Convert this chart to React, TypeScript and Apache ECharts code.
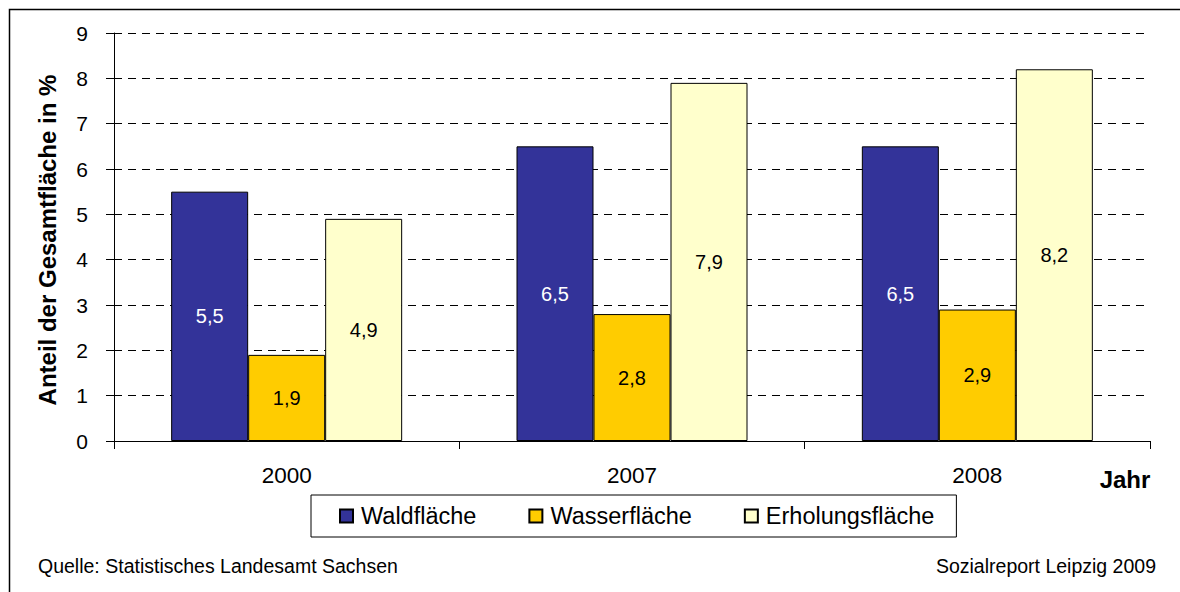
import React, { useEffect, useRef } from "react";
import * as echarts from "echarts";

const categories = ["2000", "2007", "2008"];
const waldflaeche = [5.5, 6.5, 6.5];
const wasserflaeche = [1.9, 2.8, 2.9];
const erholungsflaeche = [4.9, 7.9, 8.2];
const seriesNames = ["Waldfläche", "Wasserfläche", "Erholungsfläche"];
const yTicks = { min: 0, max: 9, interval: 1 };

const FONT = "'Liberation Sans', Arial, sans-serif";
const fmt = (v: number) => String(v).replace(".", ",");

export default function App() {
  const ref = useRef<HTMLDivElement>(null);
  useEffect(() => {
    if (!ref.current) return;
    const chart = echarts.init(ref.current, null, { renderer: "svg" });
    const mk = (name: string, data: number[], color: string, labelColor: string) => ({
      name,
      type: "bar",
      data,
      barWidth: 77,
      barGap: "0%",
      itemStyle: { color, borderColor: "#000", borderWidth: 1 },
      label: {
        show: true,
        position: "inside",
        color: labelColor,
        fontSize: 20,
        fontFamily: FONT,
        formatter: (p: any) => fmt(p.value),
      },
    });
    chart.setOption({
      animation: false,
      backgroundColor: "#fff",
      textStyle: { fontFamily: FONT },
      grid: { left: 114, right: 30, top: 33, bottom: 151, containLabel: false },
      xAxis: {
        type: "category",
        data: categories,
        axisLine: { lineStyle: { color: "#000", width: 1 } },
        axisTick: { show: true, length: 8, lineStyle: { color: "#000" } },
        axisLabel: { fontSize: 22.5, color: "#000", margin: 23, fontFamily: FONT },
      },
      yAxis: {
        type: "value",
        min: yTicks.min,
        max: yTicks.max,
        interval: yTicks.interval,
        axisLine: { show: true, lineStyle: { color: "#000", width: 1 } },
        axisTick: { show: true, length: 8, lineStyle: { color: "#000" } },
        axisLabel: { fontSize: 21, color: "#000", margin: 26, fontFamily: FONT },
        splitLine: { show: true, lineStyle: { color: "#000", type: [8, 6], width: 1 } },
      },
      legend: {
        data: seriesNames,
        left: 311,
        top: 495,
        orient: "horizontal",
        padding: [9, 22, 9, 28],
        itemGap: 52,
        itemWidth: 13,
        itemHeight: 13,
        icon: "rect",
        borderColor: "#000",
        borderWidth: 1,
        textStyle: { fontSize: 23.5, color: "#000", fontFamily: FONT, padding: [0, 0, 0, 3] },
      },
      series: [
        mk(seriesNames[0], waldflaeche, "#333399", "#fff"),
        mk(seriesNames[1], wasserflaeche, "#FFCC00", "#000"),
        mk(seriesNames[2], erholungsflaeche, "#FFFFCC", "#000"),
      ],
      graphic: [
        {
          type: "rect",
          shape: { x: 9.5, y: 9.5, width: 1200, height: 620 },
          style: { fill: "none", stroke: "#000", lineWidth: 1.5 },
          silent: true,
        },
        {
          type: "text",
          x: 47,
          y: 240,
          rotation: Math.PI / 2,
          style: {
            text: "Anteil der Gesamtfläche in %",
            fontSize: 24,
            fontWeight: "bold",
            fontFamily: FONT,
            fill: "#000",
            align: "center",
            verticalAlign: "middle",
          },
        },
        {
          type: "text",
          x: 1125,
          y: 479,
          style: {
            text: "Jahr",
            fontSize: 24,
            fontWeight: "bold",
            fontFamily: FONT,
            fill: "#000",
            align: "center",
            verticalAlign: "middle",
          },
        },
        {
          type: "text",
          x: 38,
          y: 566,
          style: {
            text: "Quelle: Statistisches Landesamt Sachsen",
            fontSize: 19.5,
            fontFamily: FONT,
            fill: "#000",
            align: "left",
            verticalAlign: "middle",
          },
        },
        {
          type: "text",
          x: 1156,
          y: 566,
          style: {
            text: "Sozialreport Leipzig 2009",
            fontSize: 19.5,
            fontFamily: FONT,
            fill: "#000",
            align: "right",
            verticalAlign: "middle",
          },
        },
      ],
    });
    return () => chart.dispose();
  }, []);
  return (
    <div
      ref={ref}
      style={{ position: "fixed", left: 0, top: 0, width: 1180, height: 592 }}
    />
  );
}
